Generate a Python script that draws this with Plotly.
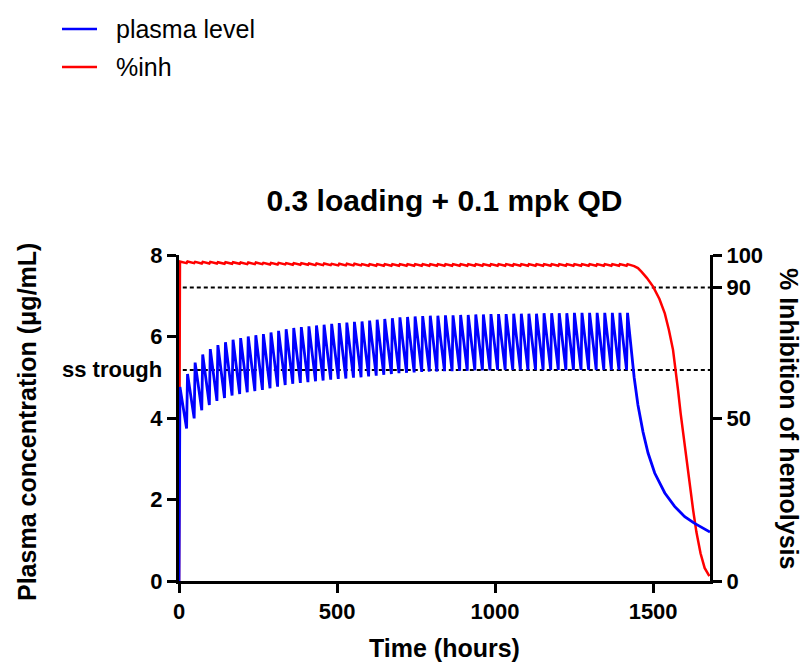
import plotly.graph_objects as go

# ---------------- data ----------------
dose_hours = [0, 24, 48, 72, 96, 120, 144, 168, 192, 216, 240, 264, 288, 312, 336, 360,
              384, 408, 432, 456, 480, 504, 528, 552, 576, 600, 624, 648, 672, 696, 720,
              744, 768, 792, 816, 840, 864, 888, 912, 936, 960, 984, 1008, 1032, 1056,
              1080, 1104, 1128, 1152, 1176, 1200, 1224, 1248, 1272, 1296, 1320, 1344,
              1368, 1392, 1416]
peak_hours = [3, 27, 51, 75, 99, 123, 147, 171, 195, 219, 243, 267, 291, 315, 339, 363,
              387, 411, 435, 459, 483, 507, 531, 555, 579, 603, 627, 651, 675, 699, 723,
              747, 771, 795, 819, 843, 867, 891, 915, 939, 963, 987, 1011, 1035, 1059,
              1083, 1107, 1131, 1155, 1179, 1203, 1227, 1251, 1275, 1299, 1323, 1347,
              1371, 1395, 1419]
# plasma concentration (ug/mL) at each post-dose peak
peak_conc = [4.76, 5.08, 5.36, 5.56, 5.69, 5.79, 5.86, 5.92, 5.96, 6.00, 6.03, 6.06, 6.10,
             6.14, 6.18, 6.21, 6.23, 6.25, 6.27, 6.29, 6.31, 6.33, 6.34, 6.36, 6.37, 6.39,
             6.41, 6.43, 6.45, 6.47, 6.48, 6.49, 6.50, 6.51, 6.51, 6.52, 6.52, 6.53, 6.53,
             6.54, 6.54, 6.55, 6.55, 6.55, 6.56, 6.56, 6.56, 6.56, 6.57, 6.57, 6.57, 6.57,
             6.58, 6.58, 6.58, 6.58, 6.58, 6.58, 6.58, 6.58]
# plasma concentration just before each following dose (trough)
trough_conc = [3.74, 3.99, 4.19, 4.32, 4.42, 4.49, 4.55, 4.59, 4.63, 4.66, 4.69, 4.73, 4.77,
               4.81, 4.84, 4.86, 4.88, 4.90, 4.92, 4.94, 4.96, 4.97, 4.99, 5.00, 5.02, 5.04,
               5.06, 5.08, 5.10, 5.11, 5.12, 5.13, 5.14, 5.14, 5.15, 5.15, 5.16, 5.16, 5.17,
               5.17, 5.17, 5.18, 5.18, 5.18, 5.18, 5.18, 5.18, 5.18, 5.18, 5.18, 5.18, 5.18,
               5.18, 5.18, 5.18, 5.18, 5.18, 5.18, 5.18]
# washout after the last dose
tail_hours = [1440, 1452, 1468, 1484, 1505, 1537, 1568, 1600, 1630, 1655, 1680]
tail_conc = [5.00, 4.32, 3.66, 3.14, 2.65, 2.16, 1.83, 1.58, 1.42, 1.31, 1.20]

# % inhibition of hemolysis
inh_peak = [98.0, 98.0, 97.9, 97.9, 97.9, 97.8, 97.8, 97.8, 97.7, 97.7, 97.7, 97.6, 97.6,
            97.6, 97.5, 97.5, 97.5, 97.4, 97.4, 97.4, 97.3, 97.3, 97.3, 97.3, 97.2, 97.2,
            97.2, 97.2, 97.2, 97.2, 97.2, 97.2, 97.2, 97.2, 97.2, 97.2, 97.2, 97.2, 97.2,
            97.2, 97.2, 97.2, 97.2, 97.2, 97.2, 97.2, 97.2, 97.2, 97.2, 97.2, 97.2, 97.2,
            97.2, 97.2, 97.2, 97.2, 97.2, 97.2, 97.2, 97.2]
inh_trough = [97.5, 97.5, 97.4, 97.4, 97.4, 97.3, 97.3, 97.3, 97.2, 97.2, 97.2, 97.1, 97.1,
              97.1, 97.0, 97.0, 97.0, 96.9, 96.9, 96.9, 96.8, 96.8, 96.8, 96.8, 96.7, 96.7,
              96.7, 96.7, 96.7, 96.7, 96.7, 96.7, 96.7, 96.7, 96.7, 96.7, 96.7, 96.7, 96.7,
              96.7, 96.7, 96.7, 96.7, 96.7, 96.7, 96.7, 96.7, 96.7, 96.7, 96.7, 96.7, 96.7,
              96.7, 96.7, 96.7, 96.7, 96.7, 96.7, 96.7]
inh_tail_hours = [1440, 1452, 1463, 1480, 1500, 1520, 1537, 1550, 1563, 1571, 1579, 1587,
                  1595, 1605, 1616, 1627, 1637, 1650, 1663, 1678]
inh_tail = [96.6, 96.0, 94.9, 93.0, 90.3, 86.5, 82.1, 77.0, 70.9, 65.5, 58.5, 51.5, 45.4,
            37.5, 29.5, 21.5, 15.0, 8.5, 4.0, 1.5]

ss_trough_level = 5.18     # ug/mL
inh_target_level = 90      # %

x_ticks = [0, 500, 1000, 1500]
left_ticks = [0, 2, 4, 6, 8]
right_ticks = [0, 50, 90, 100]

series_names = ["plasma level", "%inh"]
series_colors = ["#0000FF", "#FF0000"]

# ---------------- build the curves ----------------
pk_x, pk_y = [dose_hours[0]], [0.0]
pd_x, pd_y = [dose_hours[0]], [0.0]
for i in range(len(dose_hours)):
    if i > 0:
        pk_x.append(dose_hours[i]); pk_y.append(trough_conc[i - 1])
        pd_x.append(dose_hours[i]); pd_y.append(inh_trough[i - 1])
    pk_x.append(peak_hours[i]); pk_y.append(peak_conc[i])
    pd_x.append(peak_hours[i]); pd_y.append(inh_peak[i])
pk_x += tail_hours; pk_y += tail_conc
pd_x += inh_tail_hours; pd_y += inh_tail

FONT = "Liberation Sans, Arial, sans-serif"
L, R, T, B = 179, 94, 255, 88
W, H = 804, 669
pw, ph = W - L - R, H - T - B

def px_x(p):
    return (p - L) / pw

def px_y(p):
    return (H - B - p) / ph

fig = go.Figure()
fig.add_trace(go.Scatter(x=pd_x, y=pd_y, mode="lines", name=series_names[1],
                         line=dict(color=series_colors[1], width=2.5), yaxis="y",
                         showlegend=False))
fig.add_trace(go.Scatter(x=pk_x, y=pk_y, mode="lines", name=series_names[0],
                         line=dict(color=series_colors[0], width=2.8), yaxis="y2",
                         showlegend=False))

dot = dict(color="black", width=2, dash="4px,3px")
fig.add_shape(type="line", xref="x", yref="y2", x0=12, x1=1680,
              y0=ss_trough_level, y1=ss_trough_level, line=dot, layer="below")
fig.add_shape(type="line", xref="x", yref="y", x0=12, x1=1680,
              y0=inh_target_level, y1=inh_target_level, line=dot, layer="below")

# legend (top-left, outside the plot)
for k, (name, col) in enumerate(zip(series_names, series_colors)):
    yy = px_y(29 + 38 * k)
    fig.add_shape(type="line", xref="paper", yref="paper", x0=px_x(62), x1=px_x(97),
                  y0=yy, y1=yy, line=dict(color=col, width=2.5))
    fig.add_annotation(text=name, xref="paper", yref="paper", x=px_x(114), y=yy,
                       xanchor="left", yanchor="middle", showarrow=False,
                       font=dict(family=FONT, size=25, color="black"))

axis_common = dict(showline=True, linewidth=3, linecolor="black", showgrid=False,
                   zeroline=False, ticks="outside", ticklen=9, tickwidth=3,
                   tickcolor="black",
                   tickfont=dict(family=FONT, size=22, color="black", weight="bold"))

fig.update_layout(
    width=W, height=H,
    margin=dict(l=L, r=R, t=T, b=B, autoexpand=False),
    paper_bgcolor="white", plot_bgcolor="white",
    showlegend=False,
    title=dict(text="0.3 loading + 0.1 mpk QD", x=0.5, xref="paper",
               y=1 - 200 / H, yanchor="middle", xanchor="center",
               font=dict(family=FONT, size=30, color="black", weight="bold")),
    xaxis=dict(range=[0, 1680], tickvals=x_ticks, **axis_common),
    yaxis=dict(range=[0, 100], side="right", tickvals=right_ticks, anchor="x",
               **axis_common),
    yaxis2=dict(range=[0, 8], side="left", overlaying="y", tickvals=left_ticks,
                anchor="x", **axis_common),
)

title_font = dict(family=FONT, size=25, color="black", weight="bold")
fig.add_annotation(text="Time (hours)", xref="paper", yref="paper", x=0.5, y=px_y(648),
                   showarrow=False, font=title_font, xanchor="center", yanchor="middle")
fig.add_annotation(text="Plasma concentration (μg/mL)", xref="paper", yref="paper",
                   x=px_x(27), y=px_y(422), textangle=-90, showarrow=False,
                   font=title_font, xanchor="center", yanchor="middle")
fig.add_annotation(text="% Inhibition of hemolysis", xref="paper", yref="paper",
                   x=px_x(789), y=px_y(418), textangle=90, showarrow=False,
                   font=title_font, xanchor="center", yanchor="middle")
fig.add_annotation(text="ss trough", xref="paper", yref="y2", x=px_x(164),
                   y=ss_trough_level, showarrow=False, xanchor="right", yanchor="middle",
                   font=dict(family=FONT, size=22, color="black", weight="bold"))

fig.write_html("out.html",
               config={"displayModeBar": False},
               post_script="document.body.style.margin='0';"
                           "document.body.style.overflow='hidden';")
